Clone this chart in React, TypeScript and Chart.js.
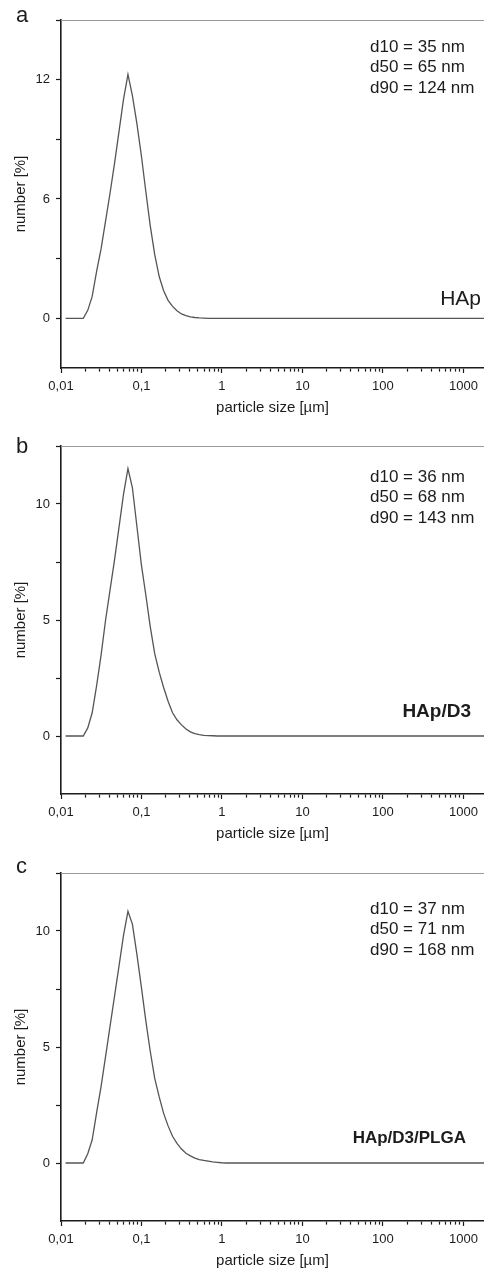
import React, { useEffect, useRef } from "react";
import { Chart, registerables } from "chart.js";

Chart.register(...registerables);

// particle size classes [µm]
const particleSizes = [
  0.0114, 0.0129, 0.0147, 0.0167, 0.0189, 0.0215, 0.0244, 0.0278, 0.0315, 0.0358,
  0.0407, 0.0463, 0.0526, 0.0597, 0.0679, 0.0771, 0.0876, 0.0995, 0.113, 0.128,
  0.146, 0.166, 0.188, 0.214, 0.243, 0.276, 0.314, 0.357, 0.405, 0.46,
  0.523, 0.594, 0.675, 0.767, 0.872, 0.991, 1.13, 1.28, 10, 100,
  1000, 3500,
];

// number [%] — HAp
const numberHAp = [
  0, 0, 0, 0, 0, 0.4, 1.1, 2.4, 3.5, 4.9,
  6.3, 7.8, 9.4, 11.0, 12.26, 11.2, 9.8, 8.2, 6.4, 4.7,
  3.2, 2.1, 1.4, 0.9, 0.6, 0.38, 0.22, 0.13, 0.07, 0.04,
  0.02, 0.01, 0, 0, 0, 0, 0, 0, 0, 0,
  0, 0,
];

// number [%] — HAp/D3
const numberHApD3 = [
  0, 0, 0, 0, 0, 0.35, 1.0, 2.2, 3.5, 5.0,
  6.3, 7.6, 9.0, 10.4, 11.53, 10.7, 9.05, 7.4, 6.1, 4.75,
  3.55, 2.75, 2.1, 1.5, 1.0, 0.7, 0.48, 0.3, 0.18, 0.1,
  0.06, 0.03, 0.02, 0.01, 0, 0, 0, 0, 0, 0,
  0, 0,
];

// number [%] — HAp/D3/PLGA
const numberHApD3PLGA = [
  0, 0, 0, 0, 0, 0.4, 1.0, 2.2, 3.3, 4.6,
  5.9, 7.2, 8.5, 9.8, 10.85, 10.3, 9.0, 7.6, 6.15, 4.85,
  3.65, 2.85, 2.15, 1.6, 1.15, 0.85, 0.6, 0.42, 0.31, 0.21,
  0.15, 0.11, 0.08, 0.05, 0.03, 0.01, 0, 0, 0, 0,
  0, 0,
];

const xTickValues = [0.01, 0.1, 1, 10, 100, 1000];
const xTickLabels = ["0,01", "0,1", "1", "10", "100", "1000"];
const xMinorFactors = [2, 3, 4, 5, 6, 7, 8, 9];

const yMajorA = [0, 6, 12];
const yMinorA = [3, 9, 15];
const yMajorBC = [0, 5, 10];
const yMinorBC = [2.5, 7.5, 12.5];

const statsHAp = ["d10 = 35 nm", "d50 = 65 nm", "d90 = 124 nm"];
const statsHApD3 = ["d10 = 36 nm", "d50 = 68 nm", "d90 = 143 nm"];
const statsHApD3PLGA = ["d10 = 37 nm", "d50 = 71 nm", "d90 = 168 nm"];

const panelLetters = ["a", "b", "c"];
const sampleNames = ["HAp", "HAp/D3", "HAp/D3/PLGA"];

const FONT = "'Liberation Sans', Arial, sans-serif";
const INK = "#1c1c1c";

type PanelProps = {
  values: number[];
  yMin: number;
  yMax: number;
  yMajor: number[];
  yMinor: number[];
  stats: string[];
  letter: string;
  name: string;
  letterY: number;
  statsY: number;
  nameFont: string;
  nameRight: number;
  nameY: number;
};

const isDecade = (v: number) => xTickValues.some((t) => Math.abs(t - v) < t * 1e-6);

function Panel(p: PanelProps) {
  const ref = useRef<HTMLCanvasElement | null>(null);
  useEffect(() => {
    if (!ref.current) return;
    const overlay = {
      id: "overlay",
      afterDraw(chart: any) {
        const ctx = chart.ctx as CanvasRenderingContext2D;
        const { left, top } = chart.chartArea;
        ctx.save();
        ctx.strokeStyle = "#9a9a9a";
        ctx.lineWidth = 1;
        ctx.beginPath();
        ctx.moveTo(left, top + 0.5);
        ctx.lineTo(chart.width, top + 0.5);
        ctx.stroke();

        ctx.fillStyle = INK;
        ctx.textBaseline = "alphabetic";
        ctx.textAlign = "left";
        ctx.font = `22px ${FONT}`;
        ctx.fillText(p.letter, 16, p.letterY);

        ctx.textBaseline = "middle";
        ctx.font = `17px ${FONT}`;
        p.stats.forEach((s, i) => {
          ctx.fillText(s, 370, p.statsY + i * 20.5);
        });

        ctx.textAlign = "right";
        ctx.font = p.nameFont;
        ctx.fillText(p.name, p.nameRight, p.nameY);
        ctx.restore();
      },
    };

    const xTicks: number[] = [];
    xTickValues.forEach((d) => {
      xTicks.push(d);
      xMinorFactors.forEach((f) => {
        const v = d * f;
        if (v <= 1800) xTicks.push(v);
      });
    });

    const chart = new Chart(ref.current, {
      type: "line",
      data: {
        datasets: [
          {
            data: particleSizes.map((x, i) => ({ x, y: p.values[i] })),
            borderColor: "#555555",
            borderWidth: 1.3,
            pointRadius: 0,
            tension: 0,
            fill: false,
          },
        ],
      },
      options: {
        animation: false,
        responsive: false,
        devicePixelRatio: 1,
        layout: { padding: { top: 20, left: 0, right: 0, bottom: 0 } },
        plugins: { legend: { display: false }, tooltip: { enabled: false } },
        scales: {
          x: {
            type: "logarithmic",
            min: 0.01,
            max: 1800,
            afterBuildTicks: (scale: any) => {
              scale.ticks = xTicks.map((v) => ({ value: v }));
            },
            afterFit: (scale: any) => {
              scale.height = 58;
            },
            grid: {
              display: true,
              drawOnChartArea: false,
              drawTicks: true,
              tickLength: 5,
              tickColor: INK,
              tickWidth: 1.2,
              tickBorderDash: (ctx: any) =>
                ctx.tick && isDecade(ctx.tick.value) ? [] : [3, 20],
            },
            border: { display: true, color: INK, width: 1.6 },
            ticks: {
              autoSkip: false,
              maxRotation: 0,
              minRotation: 0,
              padding: 6,
              color: INK,
              font: { family: FONT, size: 13 },
              callback: (v: any) => {
                const idx = xTickValues.findIndex((t) => Math.abs(t - Number(v)) < t * 1e-6);
                return idx >= 0 ? xTickLabels[idx] : "";
              },
            },
            title: {
              display: true,
              text: "particle size [µm]",
              color: INK,
              font: { family: FONT, size: 15 },
              padding: { top: 0, bottom: 9 },
            },
          },
          y: {
            type: "linear",
            min: p.yMin,
            max: p.yMax,
            afterBuildTicks: (scale: any) => {
              scale.ticks = [...p.yMajor, ...p.yMinor]
                .sort((a, b) => a - b)
                .map((v) => ({ value: v }));
            },
            afterFit: (scale: any) => {
              scale.width = 61;
            },
            grid: {
              display: true,
              drawOnChartArea: false,
              drawTicks: true,
              tickLength: 5,
              tickColor: INK,
              tickWidth: 1.2,
            },
            border: { display: true, color: INK, width: 1.6 },
            ticks: {
              autoSkip: false,
              padding: 6,
              color: INK,
              font: { family: FONT, size: 13 },
              callback: (v: any) => (p.yMajor.includes(Number(v)) ? String(v) : ""),
            },
            title: {
              display: true,
              text: "number [%]",
              color: INK,
              font: { family: FONT, size: 15 },
              padding: { top: 12, bottom: 0 },
            },
          },
        },
      },
      plugins: [overlay],
    } as any);
    return () => chart.destroy();
  }, []);
  return <canvas ref={ref} width={484} height={426} style={{ display: "block", width: 484, height: 426 }} />;
}

export default function App() {
  return (
    <div
      style={{
        position: "absolute",
        left: 0,
        top: 0,
        width: 484,
        height: 1274,
        overflow: "hidden",
        background: "#ffffff",
      }}
    >
      <div style={{ position: "absolute", left: 0, top: 0 }}>
        <Panel
          values={numberHAp}
          yMin={-2.5}
          yMax={15}
          yMajor={yMajorA}
          yMinor={yMinorA}
          stats={statsHAp}
          letter={panelLetters[0]}
          name={sampleNames[0]}
          letterY={22}
          statsY={47}
          nameFont={`21px ${FONT}`}
          nameRight={481}
          nameY={299}
        />
      </div>
      <div style={{ position: "absolute", left: 0, top: 426 }}>
        <Panel
          values={numberHApD3}
          yMin={-2.5}
          yMax={12.5}
          yMajor={yMajorBC}
          yMinor={yMinorBC}
          stats={statsHApD3}
          letter={panelLetters[1]}
          name={sampleNames[1]}
          letterY={27}
          statsY={51}
          nameFont={`bold 19px ${FONT}`}
          nameRight={471}
          nameY={286}
        />
      </div>
      <div style={{ position: "absolute", left: 0, top: 853 }}>
        <Panel
          values={numberHApD3PLGA}
          yMin={-2.5}
          yMax={12.5}
          yMajor={yMajorBC}
          yMinor={yMinorBC}
          stats={statsHApD3PLGA}
          letter={panelLetters[2]}
          name={sampleNames[2]}
          letterY={20}
          statsY={56}
          nameFont={`bold 17px ${FONT}`}
          nameRight={466}
          nameY={285}
        />
      </div>
    </div>
  );
}
